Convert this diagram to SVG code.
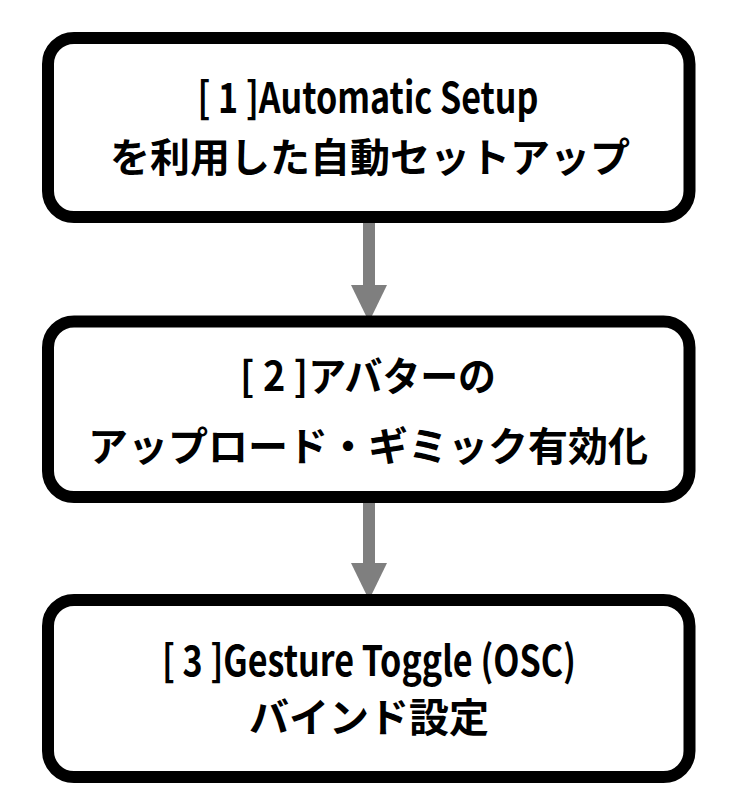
<svg xmlns="http://www.w3.org/2000/svg" width="750" height="807" viewBox="0 0 750 807">
<style>
.box{fill:#fff;stroke:#000;stroke-width:12}
.t{font-family:"Noto Sans CJK JP","Noto Sans",sans-serif;font-weight:700;font-size:40px;fill:#000;text-anchor:middle}
.l{font-size:42px}
.arr{fill:#7f7f7f}
</style>
<rect width="750" height="807" fill="#fff"/>
<g id="connectors">
<rect class="arr" x="363" y="217" width="12" height="69"/>
<polygon class="arr" points="351,285 387,285 369,322"/>
<rect class="arr" x="363" y="497" width="12" height="67"/>
<polygon class="arr" points="351,563 387,563 369,600"/>
</g>
<g id="node1">
<rect class="box" x="48" y="38" width="641.5" height="179" rx="26"/>
<text class="t l" x="368" y="113" textLength="341" lengthAdjust="spacingAndGlyphs">[ 1 ]Automatic Setup</text>
<text class="t" x="370" y="172">を利用した自動セットアップ</text>
</g>
<g id="node2">
<rect class="box" x="48" y="321.5" width="641.5" height="175.5" rx="26"/>
<text class="t" x="368" y="391" textLength="256" lengthAdjust="spacingAndGlyphs">[ 2 ]アバターの</text>
<text class="t" x="368" y="461">アップロード・ギミック有効化</text>
</g>
<g id="node3">
<rect class="box" x="48" y="600" width="641.5" height="177" rx="26"/>
<text class="t l" x="369" y="676" textLength="414" lengthAdjust="spacingAndGlyphs">[ 3 ]Gesture Toggle (OSC)</text>
<text class="t" x="369" y="732">バインド設定</text>
</g>
</svg>
